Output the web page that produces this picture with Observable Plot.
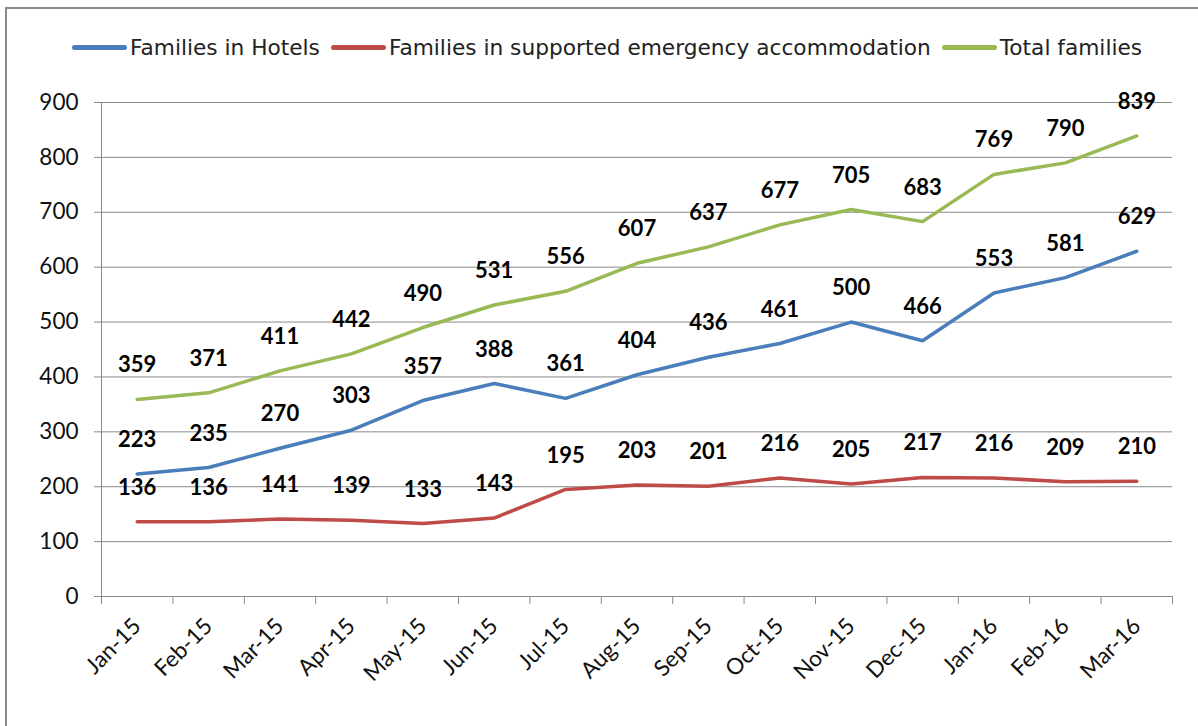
<!DOCTYPE html>
<html><head><meta charset="utf-8">
<script src="https://cdn.jsdelivr.net/npm/d3@7"></script>
<script src="https://cdn.jsdelivr.net/npm/@observablehq/plot@0.6"></script>
<style>
body{margin:0;background:#fff;font-family:Lato,"Open Sans",sans-serif;}
#wrap{position:relative;width:1198px;height:726px;overflow:hidden;}
#frame{position:absolute;left:5px;top:7px;width:1200px;height:740px;border:2px solid #8a8a8a;box-sizing:border-box;pointer-events:none;}
#legend{position:absolute;top:32px;left:72px;height:30px;display:flex;gap:11px;font-family:"DejaVu Sans",sans-serif;font-size:21.7px;color:#222;white-space:nowrap;}
.item{display:flex;align-items:center;}
.sw{display:inline-block;width:55px;height:5px;border-radius:2.5px;margin-right:3px;}
#chart{position:absolute;top:80px;left:0;}
</style></head>
<body><div id="wrap"><div id="frame"></div><div id="legend"></div><div id="chart"></div></div>
<script>
const months = ["Jan-15","Feb-15","Mar-15","Apr-15","May-15","Jun-15","Jul-15","Aug-15","Sep-15","Oct-15","Nov-15","Dec-15","Jan-16","Feb-16","Mar-16"];
const hotels = [223,235,270,303,357,388,361,404,436,461,500,466,553,581,629];
const supported = [136,136,141,139,133,143,195,203,201,216,205,217,216,209,210];
const total = [359,371,411,442,490,531,556,607,637,677,705,683,769,790,839];
const seriesNames = ["Families in Hotels","Families in supported emergency accommodation","Total families"];
const colors = ["#4A7EBB","#BE4B48","#98B954"];
const yTicks = [0,100,200,300,400,500,600,700,800,900];

const lists = [hotels, supported, total];
const data = [];
lists.forEach((arr, s) => arr.forEach((v, i) => data.push({i, v, s: seriesNames[s]})));

const leg = document.getElementById("legend");
seriesNames.forEach((n, k) => {
  const d = document.createElement("div"); d.className = "item";
  d.innerHTML = `<span class="sw" style="background:${colors[k]}"></span><span>${n}</span>`;
  leg.appendChild(d);
});

const boundaries = d3.range(months.length + 1).map(k => k - 0.5);
const chart = Plot.plot({
  width: 1198, height: 646,
  marginLeft: 101, marginRight: 26, marginTop: 22, marginBottom: 130,
  style: {fontFamily: "Lato, 'Open Sans', sans-serif", fontSize: "22.5px", color: "#111", background: "transparent"},
  x: {type: "linear", domain: [-0.5, months.length - 0.5]},
  y: {domain: [0, 900]},
  color: {domain: seriesNames, range: colors},
  marks: [
    Plot.gridY(yTicks, {stroke: "#8a8a8a", strokeOpacity: 1, strokeWidth: 1}),
    Plot.ruleX([-0.5], {stroke: "#8a8a8a"}),
    Plot.axisY(yTicks, {tickSize: 7, tickPadding: 16, stroke: "#8a8a8a", fill: "#111", label: null}),
    Plot.axisX(boundaries, {tickSize: 8, tickFormat: () => "", stroke: "#8a8a8a", label: null}),
    Plot.axisX(d3.range(months.length), {tickSize: 0, tickPadding: 26, tickRotate: -45, tickFormat: i => months[i], fill: "#111", label: null}),
    Plot.line(data, {x: "i", y: "v", z: "s", stroke: "s", strokeWidth: 3.5}),
    Plot.text(data, {x: "i", y: "v", text: d => String(d.v), dy: -34, fontWeight: "bold", fontSize: 22, fill: "#000"})
  ]
});
document.getElementById("chart").appendChild(chart);
</script></body></html>
